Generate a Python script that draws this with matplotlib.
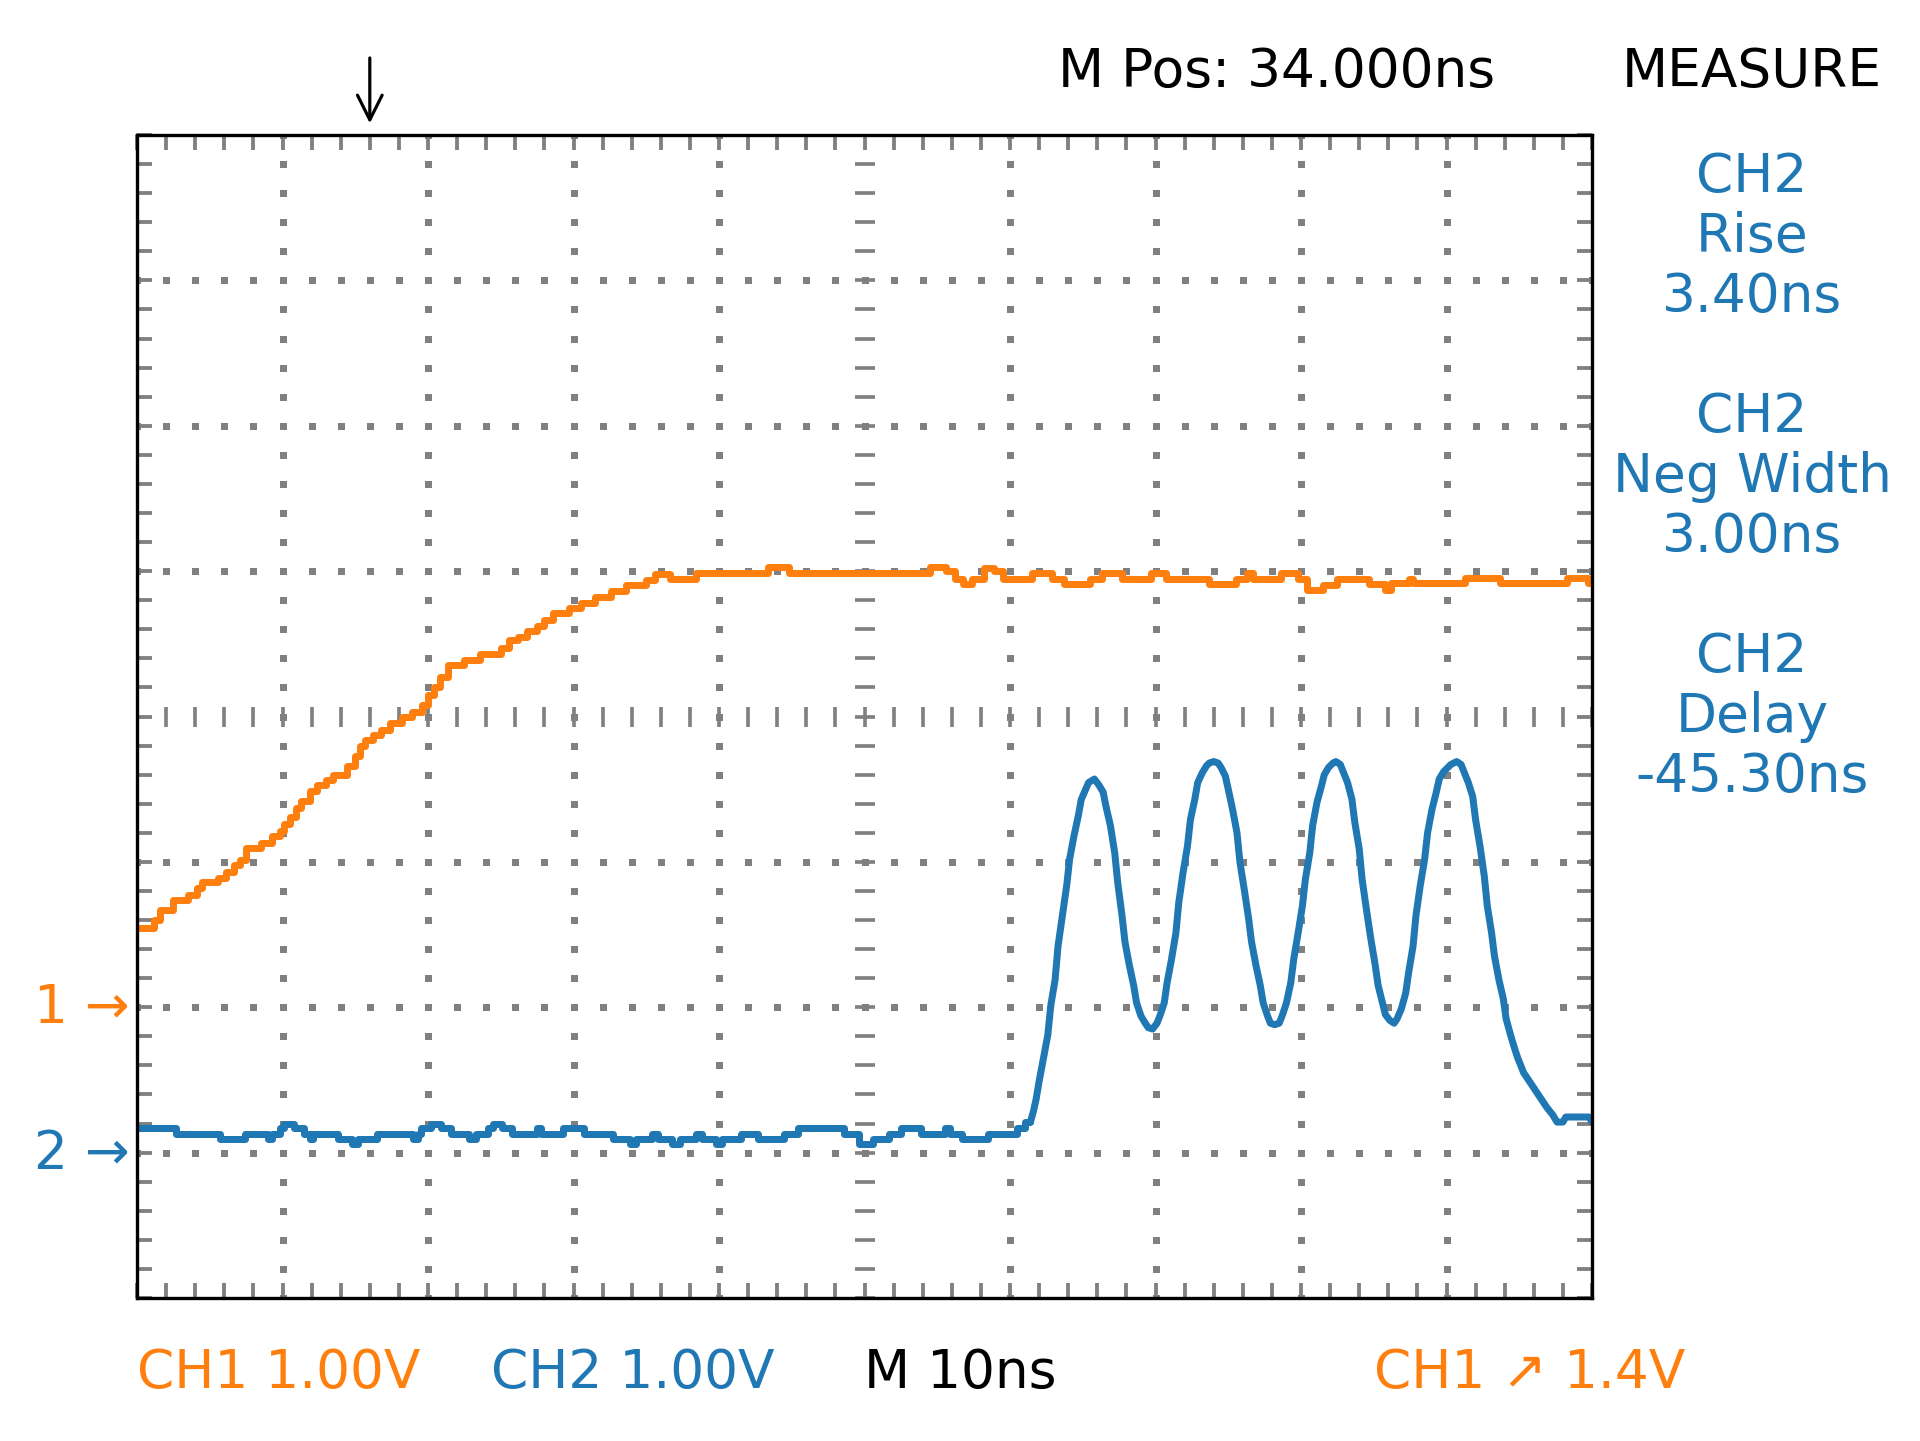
import numpy as np
import matplotlib
matplotlib.use("Agg")
import matplotlib.pyplot as plt

# ---------------- data (screen divisions: x 0..10, y -4..4) ----------------
ch1_t = [0.00, 0.12, 0.16, 0.25, 0.35, 0.41, 0.45, 0.56, 0.61, 0.67, 0.71, 0.75,
         0.85, 0.93, 0.98, 1.01, 1.05, 1.09, 1.13, 1.19, 1.24, 1.30, 1.35, 1.44,
         1.50, 1.53, 1.57, 1.62, 1.68, 1.74, 1.82, 1.89, 1.96, 2.00, 2.04, 2.08,
         2.14, 2.25, 2.36, 2.50, 2.56, 2.62, 2.68, 2.75, 2.80, 2.86, 2.97, 3.05,
         3.15, 3.26, 3.36, 3.50, 3.56, 3.66, 3.84, 4.34, 4.48, 5.45, 5.56, 5.62,
         5.68, 5.74, 5.82, 5.89, 5.95, 6.15, 6.29, 6.37, 6.55, 6.63, 6.77, 6.97,
         7.07, 7.37, 7.55, 7.63, 7.67, 7.86, 7.98, 8.04, 8.15, 8.25, 8.47, 8.58,
         8.62, 8.74, 8.77, 9.13, 9.37, 9.83, 9.97, 10.00]
ch1_v = [-1.455, -1.40, -1.33, -1.26, -1.23, -1.18, -1.14, -1.11, -1.07, -1.02, -0.985, -0.905,
         -0.87, -0.825, -0.79, -0.74, -0.69, -0.63, -0.584, -0.515, -0.47, -0.435, -0.40, -0.34,
         -0.27, -0.206, -0.16, -0.126, -0.09, -0.046, 0.0, 0.034, 0.08, 0.149, 0.206, 0.275,
         0.355, 0.39, 0.43, 0.47, 0.527, 0.55, 0.59, 0.62, 0.665, 0.71, 0.745, 0.78,
         0.825, 0.866, 0.905, 0.94, 0.98, 0.946, 0.985, 1.026, 0.99, 1.026, 1.0, 0.944,
         0.91, 0.944, 1.02, 1.0, 0.944, 0.985, 0.944, 0.91, 0.944, 0.985, 0.944, 0.985,
         0.944, 0.91, 0.944, 0.985, 0.944, 0.985, 0.944, 0.87, 0.905, 0.944, 0.91, 0.87,
         0.915, 0.945, 0.915, 0.95, 0.915, 0.95, 0.915, 0.915]

ch2_flat_t = [0.00, 0.27, 0.57, 0.74, 0.90, 0.93, 0.98, 1.01, 1.08, 1.15, 1.19, 1.21,
              1.38, 1.48, 1.52, 1.65, 1.90, 1.93, 1.95, 2.02, 2.09, 2.16, 2.28, 2.33,
              2.41, 2.45, 2.51, 2.58, 2.75, 2.78, 2.93, 3.07, 3.27, 3.39, 3.43, 3.54,
              3.58, 3.68, 3.73, 3.84, 3.88, 3.98, 4.02, 4.15, 4.27, 4.45, 4.54, 4.86,
              4.96, 5.06, 5.17, 5.25, 5.39, 5.55, 5.59, 5.67, 5.85, 6.05, 6.10, 6.14]
ch2_flat_v = [-2.834, -2.869, -2.908, -2.869, -2.908, -2.869, -2.834, -2.80, -2.834, -2.869, -2.908, -2.869,
              -2.908, -2.94, -2.908, -2.869, -2.908, -2.869, -2.834, -2.80, -2.834, -2.869, -2.908, -2.869,
              -2.834, -2.80, -2.834, -2.869, -2.834, -2.869, -2.834, -2.869, -2.908, -2.94, -2.908, -2.869,
              -2.908, -2.94, -2.908, -2.869, -2.908, -2.94, -2.908, -2.869, -2.908, -2.869, -2.834, -2.869,
              -2.94, -2.908, -2.869, -2.834, -2.869, -2.834, -2.869, -2.908, -2.869, -2.834, -2.79, -2.79]

ch2_osc_t = [6.14, 6.16, 6.18, 6.20, 6.23, 6.26, 6.28, 6.31, 6.33, 6.36, 6.39, 6.41, 6.44, 6.47,
             6.49, 6.52, 6.54, 6.58, 6.61, 6.64, 6.66, 6.69, 6.72, 6.74, 6.77, 6.79, 6.82, 6.85,
             6.87, 6.90, 6.93, 6.95, 6.98, 7.01, 7.03, 7.06, 7.08, 7.11, 7.14, 7.16, 7.19, 7.22,
             7.24, 7.27, 7.29, 7.32, 7.35, 7.37, 7.40, 7.43, 7.45, 7.48, 7.50, 7.53, 7.56, 7.58,
             7.61, 7.64, 7.66, 7.69, 7.72, 7.74, 7.77, 7.79, 7.82, 7.85, 7.87, 7.90, 7.93, 7.95,
             7.98, 8.01, 8.03, 8.06, 8.08, 8.11, 8.14, 8.16, 8.19, 8.22, 8.24, 8.27, 8.29, 8.32,
             8.35, 8.37, 8.40, 8.42, 8.45, 8.48, 8.51, 8.53, 8.56, 8.58, 8.61, 8.64, 8.66, 8.69,
             8.72, 8.74, 8.77, 8.79, 8.82, 8.85, 8.87, 8.90, 8.93, 8.95, 8.98, 9.01, 9.03, 9.07,
             9.10, 9.12, 9.15, 9.18, 9.20, 9.23, 9.26, 9.28, 9.31, 9.33, 9.36, 9.39, 9.41, 9.44,
             9.47, 9.49, 9.53, 9.57, 9.61, 9.65, 9.69, 9.73, 9.76, 9.80, 9.82, 9.98, 10.00]
ch2_osc_v = [-2.79, -2.72, -2.63, -2.51, -2.35, -2.19, -1.99, -1.81, -1.58, -1.37, -1.16, -0.98, -0.82, -0.68,
             -0.57, -0.50, -0.455, -0.43, -0.47, -0.52, -0.62, -0.75, -0.94, -1.14, -1.37, -1.55, -1.71, -1.85,
             -1.97, -2.06, -2.11, -2.14, -2.15, -2.11, -2.06, -1.97, -1.83, -1.67, -1.49, -1.28, -1.07, -0.89,
             -0.71, -0.57, -0.455, -0.39, -0.34, -0.32, -0.31, -0.32, -0.35, -0.41, -0.50, -0.64, -0.80, -1.00,
             -1.19, -1.39, -1.55, -1.71, -1.85, -1.97, -2.06, -2.11, -2.12, -2.11, -2.06, -1.97, -1.83, -1.67,
             -1.49, -1.30, -1.12, -0.94, -0.75, -0.59, -0.48, -0.40, -0.35, -0.32, -0.31, -0.33, -0.38, -0.455,
             -0.57, -0.73, -0.91, -1.12, -1.33, -1.53, -1.71, -1.85, -1.97, -2.05, -2.09, -2.11, -2.08, -2.01,
             -1.90, -1.76, -1.58, -1.37, -1.16, -0.98, -0.80, -0.64, -0.52, -0.43, -0.38, -0.35, -0.33, -0.31,
             -0.33, -0.38, -0.455, -0.55, -0.71, -0.89, -1.10, -1.30, -1.49, -1.65, -1.81, -1.94, -2.08, -2.19,
             -2.29, -2.35, -2.45, -2.51, -2.57, -2.63, -2.69, -2.74, -2.79, -2.79, -2.755, -2.755, -2.79]

ch1_marker = -2.0
ch2_marker = -3.0
trigger_pos = 1.6

top_label = "M Pos: 34.000ns"
measure_title = "MEASURE"
measure_blocks = ["CH2\nRise\n3.40ns", "CH2\nNeg Width\n3.00ns", "CH2\nDelay\n-45.30ns"]
bottom_labels = ["CH1 1.00V", "CH2 1.00V", "M 10ns", "CH1 \u2197 1.4V"]

# ---------------- styling ----------------
ORANGE = "#ff7f0e"
BLUE = "#1f77b4"
GRAY = "#808080"
FS = 32

fig = plt.figure(figsize=(1920 / 120, 1441 / 120), dpi=120)
ax = fig.add_axes([137 / 1920, (1441 - 1298) / 1441, 1455 / 1920, 1163 / 1441])
ax.set_xlim(0, 10)
ax.set_ylim(-4, 4)

# graticule
fine = np.round(np.arange(-20, 21) * 0.2, 6)
fine_x = np.round(np.arange(0, 51) * 0.2, 6)
for gx in [1, 2, 3, 4, 6, 7, 8, 9]:
    ax.plot(np.full(len(fine), gx), fine, ls="none", marker="s", ms=4.2,
            color=GRAY, mew=0, zorder=1)
for gy in [-3, -2, -1, 1, 2, 3]:
    ax.plot(fine_x, np.full(len(fine_x), gy), ls="none", marker="s", ms=4.2,
            color=GRAY, mew=0, zorder=1)
ax.plot(fine_x, np.zeros(len(fine_x)), ls="none", marker="|", ms=12,
        mew=2.2, color=GRAY, zorder=1)
ax.plot(np.full(len(fine), 5.0), fine, ls="none", marker="_", ms=12,
        mew=2.2, color=GRAY, zorder=1)

ax.set_xticks(np.arange(0, 11, 1))
ax.set_yticks(np.arange(-4, 5, 1))
ax.set_xticks(fine_x, minor=True)
ax.set_yticks(fine[(fine >= -4) & (fine <= 4)], minor=True)
ax.tick_params(which="both", direction="in", length=9, width=2.3, color=GRAY,
               top=True, right=True, bottom=True, left=True,
               labelbottom=False, labelleft=False)
for sp in ax.spines.values():
    sp.set_linewidth(2.0)
    sp.set_color("black")
    sp.set_zorder(5)

# traces
LW = 4.2
ax.plot(ch1_t, ch1_v, drawstyle="steps-post", color=ORANGE, lw=LW, zorder=3,
        solid_joinstyle="round", solid_capstyle="round")
ax.plot(ch2_flat_t, ch2_flat_v, drawstyle="steps-post", color=BLUE, lw=LW, zorder=3,
        solid_joinstyle="round", solid_capstyle="round")
ax.plot(ch2_osc_t, ch2_osc_v, color=BLUE, lw=LW, zorder=3,
        solid_joinstyle="round", solid_capstyle="round")

# channel markers
ax.text(-0.05, ch1_marker - 0.11, "1 \u2192", ha="right", va="baseline",
        color=ORANGE, fontsize=FS)
ax.text(-0.05, ch2_marker - 0.11, "2 \u2192", ha="right", va="baseline",
        color=BLUE, fontsize=FS)

# trigger position arrow
ax.annotate("", xy=(trigger_pos, 4.08), xytext=(trigger_pos, 4.53),
            arrowprops=dict(arrowstyle="->", lw=1.9, color="black",
                            mutation_scale=37, shrinkA=0, shrinkB=0),
            annotation_clip=False)

# header texts
ax.text(7.83, 4.33, top_label, ha="center", va="baseline", fontsize=FS, color="black")
ax.text(11.1, 4.33, measure_title, ha="center", va="baseline", fontsize=FS, color="black")

# measurement blocks (y = baseline of the last line)
for yb, txt in zip([2.785, 1.134, -0.517], measure_blocks):
    ax.text(11.1, yb, txt, ha="center", va="baseline", fontsize=FS, color=BLUE,
            linespacing=1.19, multialignment="center")

# footer texts
for xb, txt, col in zip([0.0, 2.43, 5.0, 8.5], bottom_labels,
                        [ORANGE, BLUE, "black", ORANGE]):
    ax.text(xb, -4.62, txt, ha="left", va="baseline", fontsize=FS, color=col)

fig.savefig("out.png", dpi=120)
